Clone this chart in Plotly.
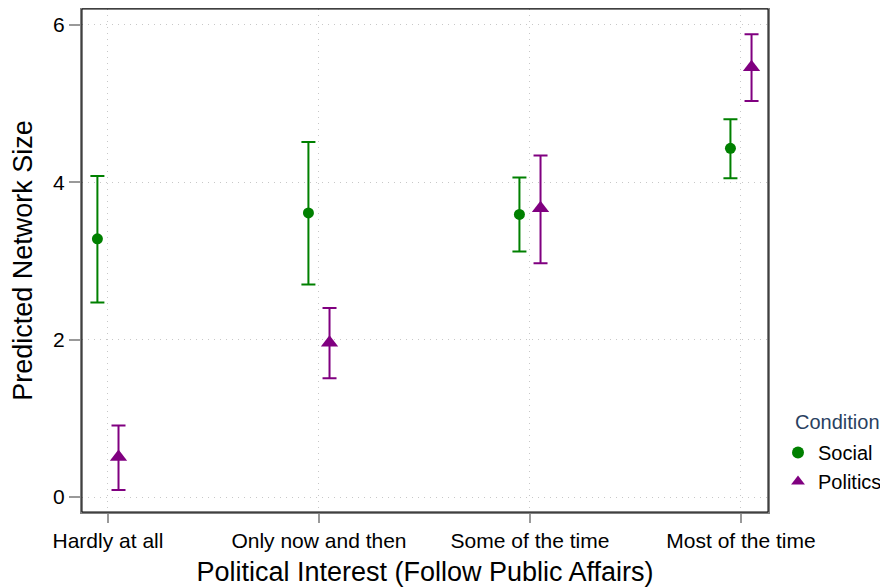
import plotly.graph_objects as go

categories = ["Hardly at all", "Only now and then", "Some of the time", "Most of the time"]
social_est = [3.28, 3.61, 3.59, 4.43]
social_lo = [2.47, 2.70, 3.12, 4.05]
social_hi = [4.08, 4.51, 4.06, 4.80]
politics_est = [0.51, 1.96, 3.67, 5.46]
politics_lo = [0.09, 1.51, 2.97, 5.03]
politics_hi = [0.91, 2.40, 4.34, 5.88]
y_ticks = [0, 2, 4, 6]

offset = 0.05
xs = list(range(len(categories)))

fig = go.Figure()
fig.add_trace(go.Scatter(
    x=[x - offset for x in xs], y=social_est, mode="markers", name="Social",
    marker=dict(symbol="circle", size=11, color="#008000"),
    error_y=dict(type="data", symmetric=False,
                 array=[h - e for h, e in zip(social_hi, social_est)],
                 arrayminus=[e - l for e, l in zip(social_est, social_lo)],
                 color="#008000", thickness=2, width=7),
))
fig.add_trace(go.Scatter(
    x=[x + offset for x in xs], y=politics_est, mode="markers", name="Politics",
    marker=dict(symbol="triangle-up", size=15, color="#800080"),
    error_y=dict(type="data", symmetric=False,
                 array=[h - e for h, e in zip(politics_hi, politics_est)],
                 arrayminus=[e - l for e, l in zip(politics_est, politics_lo)],
                 color="#800080", thickness=2, width=7),
))

fig.add_shape(type="rect", xref="paper", yref="paper", x0=0, x1=1, y0=0, y1=1,
              line=dict(color="black", width=1), layer="above")

# page has an 8px body margin: figure is 880x580, offset by 8px
PL, PT, PW, PH = 74, 1, 686, 503

fig.add_annotation(text="Condition", xref="paper", yref="paper",
                   x=(785 - PL) / PW, y=(PT + PH - 414) / PH, xanchor="left", yanchor="middle",
                   showarrow=False, font=dict(size=20, color="#2a3f5f"))

fig.update_layout(
    width=880, height=580,
    margin=dict(l=PL, r=880 - PL - PW, t=PT, b=580 - PT - PH, autoexpand=False),
    paper_bgcolor="white", plot_bgcolor="white",
    font=dict(family="Liberation Sans, Arial, sans-serif", size=20, color="black"),
    legend=dict(x=(770 - PL) / PW, xanchor="left", y=(PT + PH - 425) / PH, yanchor="top",
                font=dict(size=20, color="black"), itemsizing="constant",
                bgcolor="rgba(0,0,0,0)", tracegroupgap=0),
    showlegend=True,
)
fig.update_xaxes(
    range=[-0.123, 3.128], tickmode="array", tickvals=xs, ticktext=categories,
    showgrid=True, gridcolor="#c8c8c8", griddash="1px,5px", gridwidth=1,
    showline=True, linecolor="#808080", linewidth=2, mirror=True,
    ticks="outside", ticklen=9, tickcolor="#999999", tickwidth=2,
    tickfont=dict(size=21), zeroline=False, automargin=False,
    title=dict(text="Political Interest (Follow Public Affairs)", font=dict(size=27), standoff=11),
)
fig.update_yaxes(
    range=[-0.19, 6.2], tickmode="array", tickvals=y_ticks,
    showgrid=True, gridcolor="#c8c8c8", griddash="1px,5px", gridwidth=1,
    showline=True, linecolor="#808080", linewidth=2, mirror=True,
    ticks="outside", ticklen=11, tickcolor="#999999", tickwidth=2,
    tickfont=dict(size=21), zeroline=False, automargin=False,
    title=dict(text="Predicted Network Size", font=dict(size=27), standoff=20),
)

fig.write_html("out.html")
